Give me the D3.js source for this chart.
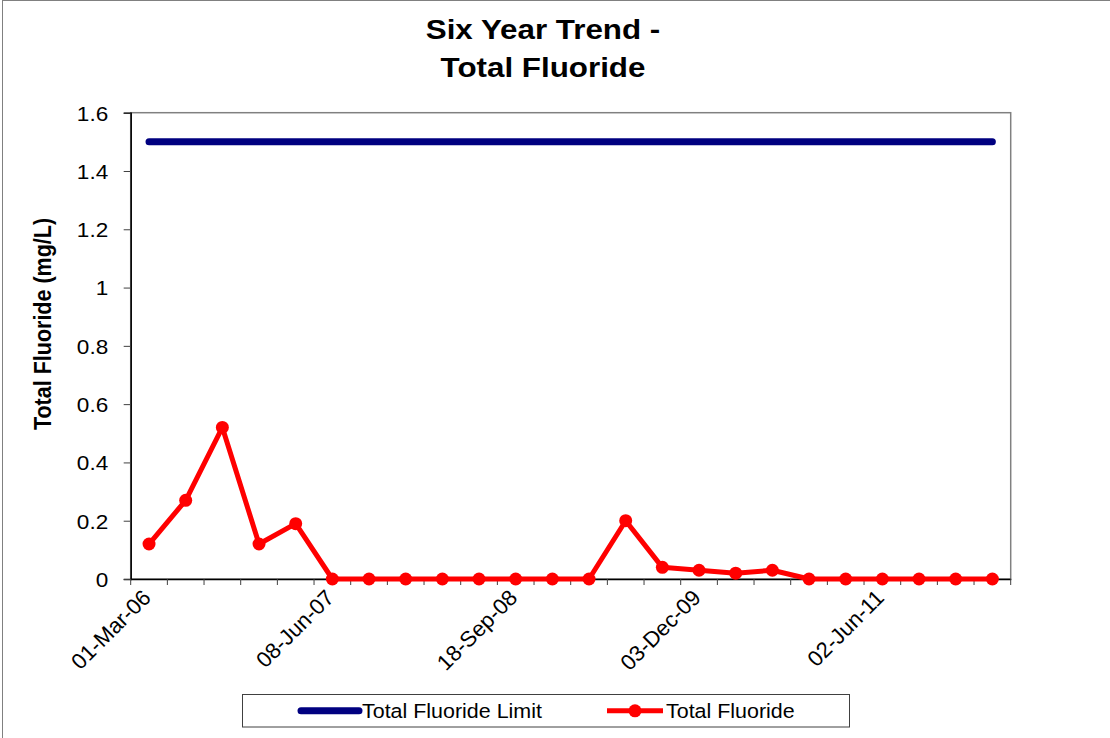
<!DOCTYPE html>
<html>
<head>
<meta charset="utf-8">
<script src="https://cdn.jsdelivr.net/npm/d3@7"></script>
<style>
  html, body { margin: 0; padding: 0; background: #ffffff; }
  svg { display: block; }
  text { font-family: Arial, "Liberation Sans", sans-serif; fill: #000; }
</style>
</head>
<body>
<svg id="chart" width="1110" height="738"></svg>
<script>
// Sampling dates (quarterly, March 2006 – March 2012)
const sampleDates = [
  "01-Mar-06", "07-Jun-06", "05-Sep-06", "04-Dec-06", "06-Mar-07", "08-Jun-07",
  "10-Sep-07", "03-Dec-07", "04-Mar-08", "09-Jun-08", "18-Sep-08", "02-Dec-08",
  "03-Mar-09", "08-Jun-09", "01-Sep-09", "03-Dec-09", "02-Mar-10", "08-Jun-10",
  "07-Sep-10", "06-Dec-10", "02-Jun-11", "06-Sep-11", "05-Dec-11", "05-Mar-12"
];

// Measured total fluoride (mg/L)
const fluorideValues = [
  0.12, 0.27, 0.52, 0.12, 0.19, 0, 0, 0, 0, 0, 0, 0,
  0, 0.20, 0.04, 0.03, 0.02, 0.03, 0, 0, 0, 0, 0, 0
];

// Regulatory limit (mg/L), constant across the period
const fluorideLimit = sampleDates.map(() => 1.5);

// Axis ticks
const yTickValues = [0, 0.2, 0.4, 0.6, 0.8, 1, 1.2, 1.4, 1.6];
const xLabelEvery = 5;

const seriesNames = ["Total Fluoride Limit", "Total Fluoride"];
const titleLines = ["Six Year Trend -", "Total Fluoride"];
const yAxisTitle = "Total Fluoride (mg/L)";

// ---- layout ----
const SX = 1.1;               // horizontal text stretch
const plot = { left: 130.7, right: 1010.7, top: 112.7, bottom: 579 };
const colors = { limit: "#000080", fluoride: "#ff0000" };

const svg = d3.select("#chart");

// outer chart border (top and left edges visible)
svg.append("rect")
  .attr("x", 2.5).attr("y", 0.5)
  .attr("width", 1200).attr("height", 800)
  .attr("fill", "none").attr("stroke", "#808080").attr("stroke-width", 1);

const x = d3.scaleBand()
  .domain(sampleDates)
  .range([plot.left, plot.right])
  .padding(0);

const y = d3.scaleLinear()
  .domain([0, 1.6])
  .range([plot.bottom, plot.top]);

const cx = d => x(d) + x.bandwidth() / 2;

// plot area frame (top/right in grey)
svg.append("rect")
  .attr("x", plot.left).attr("y", plot.top)
  .attr("width", plot.right - plot.left).attr("height", plot.bottom - plot.top)
  .attr("fill", "#ffffff").attr("stroke", "#808080").attr("stroke-width", 1.5);

// ---- y axis ----
const yAxis = svg.append("g")
  .attr("transform", `translate(${plot.left},0)`)
  .call(d3.axisLeft(y).tickValues(yTickValues).tickSize(7).tickPadding(0)
    .tickFormat(d3.format("~g")));
yAxis.select(".domain").attr("stroke", "#000").attr("stroke-width", 1.5);
yAxis.selectAll(".tick line").attr("stroke", "#404040");
yAxis.selectAll(".tick text")
  .attr("x", 0).attr("dy", "0.36em")
  .attr("text-anchor", "end")
  .attr("transform", `translate(-22.5,0) scale(${SX},1)`)
  .style("font-size", "20.5px")
  .style("font-family", "Arial, 'Liberation Sans', sans-serif");

// ---- x axis ----
const xAxis = svg.append("g")
  .attr("transform", `translate(0,${plot.bottom})`)
  .call(d3.axisBottom(x).tickSize(0).tickFormat(() => ""));
xAxis.select(".domain").attr("stroke", "#000").attr("stroke-width", 1.5);

// category boundary tick marks
const boundaries = sampleDates.map(d => x(d)).concat([x.range()[1]]);
xAxis.selectAll("line.cat-tick")
  .data(boundaries)
  .join("line")
  .attr("class", "cat-tick")
  .attr("x1", d => d).attr("x2", d => d)
  .attr("y1", 0).attr("y2", 6)
  .attr("stroke", "#404040").attr("stroke-width", 1);

// rotated date labels
xAxis.selectAll("text.date-label")
  .data(sampleDates.filter((d, i) => i % xLabelEvery === 0))
  .join("text")
  .attr("class", "date-label")
  .attr("text-anchor", "end")
  .attr("transform", d => `translate(${cx(d) + 3},${20}) rotate(-45)`)
  .style("font-size", "22px")
  .text(d => d);

// ---- series ----
const seriesLine = d3.line()
  .x((d, i) => cx(sampleDates[i]))
  .y(d => y(d));

svg.append("path")
  .datum(fluorideLimit)
  .attr("d", seriesLine)
  .attr("fill", "none")
  .attr("stroke", colors.limit)
  .attr("stroke-width", 7)
  .attr("stroke-linecap", "round")
  .attr("stroke-linejoin", "round");

svg.append("path")
  .datum(fluorideValues)
  .attr("d", seriesLine)
  .attr("fill", "none")
  .attr("stroke", colors.fluoride)
  .attr("stroke-width", 5)
  .attr("stroke-linejoin", "round");

svg.append("g")
  .selectAll("circle")
  .data(fluorideValues)
  .join("circle")
  .attr("cx", (d, i) => cx(sampleDates[i]))
  .attr("cy", d => y(d))
  .attr("r", 6.5)
  .attr("fill", colors.fluoride);

// ---- titles ----
svg.selectAll("text.title")
  .data(titleLines)
  .join("text")
  .attr("class", "title")
  .attr("text-anchor", "middle")
  .attr("transform", (d, i) => `translate(543,${39 + i * 38}) scale(${SX},1)`)
  .style("font-size", "28.5px")
  .style("font-weight", "bold")
  .text(d => d);

svg.append("text")
  .attr("text-anchor", "middle")
  .attr("transform", `translate(51,324) scale(${SX},1) rotate(-90)`)
  .style("font-size", "21.5px")
  .style("font-weight", "bold")
  .text(yAxisTitle);

// ---- legend ----
const legend = svg.append("g");
legend.append("rect")
  .attr("x", 242.5).attr("y", 694.5)
  .attr("width", 607).attr("height", 32.5)
  .attr("fill", "#ffffff").attr("stroke", "#404040").attr("stroke-width", 1);

const legendItems = [
  { name: seriesNames[0], color: colors.limit, x0: 301, x1: 359, width: 7, marker: false, tx: 362 },
  { name: seriesNames[1], color: colors.fluoride, x0: 607, x1: 663, width: 5, marker: true, tx: 666 }
];
const ly = 710.8;
legendItems.forEach(it => {
  legend.append("line")
    .attr("x1", it.x0).attr("x2", it.x1)
    .attr("y1", ly).attr("y2", ly)
    .attr("stroke", it.color).attr("stroke-width", it.width)
    .attr("stroke-linecap", it.marker ? "butt" : "round");
  if (it.marker) {
    legend.append("circle")
      .attr("cx", (it.x0 + it.x1) / 2).attr("cy", ly).attr("r", 6.5)
      .attr("fill", it.color);
  }
  legend.append("text")
    .attr("transform", `translate(${it.tx},${ly + 7}) scale(${SX},1)`)
    .style("font-size", "19.5px")
    .text(it.name);
});
</script>
</body>
</html>
